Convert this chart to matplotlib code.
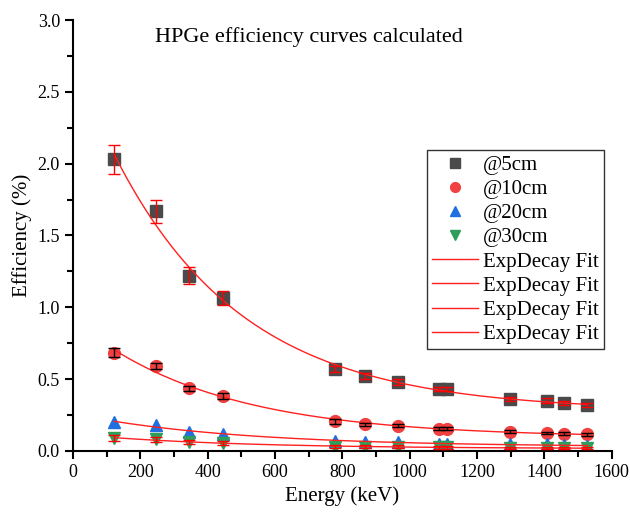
import numpy as np
import matplotlib.pyplot as plt
from matplotlib.lines import Line2D
from matplotlib.ticker import MultipleLocator

plt.rcParams['font.family'] = ['Liberation Serif', 'DejaVu Serif']

# Eu-152 gamma line energies (keV)
energy = [122, 245, 344, 444, 779, 867, 964, 1086, 1112, 1299, 1408, 1458, 1528]

# efficiency (%) at each distance
eff_5cm = [2.03, 1.67, 1.22, 1.065, 0.57, 0.52, 0.48, 0.43, 0.43, 0.36, 0.35, 0.335, 0.32]
err_5cm = [0.10, 0.08, 0.06, 0.05, 0.02, 0.02, 0.02, 0.015, 0.015, 0.015, 0.015, 0.015, 0.015]
eff_10cm = [0.685, 0.59, 0.435, 0.38, 0.205, 0.185, 0.175, 0.155, 0.155, 0.135, 0.125, 0.12, 0.115]
err_10cm = [0.03, 0.02, 0.02, 0.02, 0.015, 0.01, 0.01, 0.01, 0.01, 0.01, 0.01, 0.01, 0.01]
eff_20cm = [0.20, 0.18, 0.135, 0.12, 0.07, 0.065, 0.06, 0.05, 0.05, 0.045, 0.045, 0.04, 0.035]
eff_30cm = [0.09, 0.08, 0.06, 0.055, 0.03, 0.03, 0.03, 0.025, 0.025, 0.02, 0.02, 0.02, 0.02]
err_30cm = [0.02, 0.015, 0.015, 0.015, 0.01, 0.01, 0.01, 0.01, 0.01, 0.01, 0.01, 0.01, 0.01]

labels = ['@5cm', '@10cm', '@20cm', '@30cm']


def exp_decay_fit(x, y):
    # y = y0 + A*exp(-x/t), grid search on t, linear least squares for y0, A
    x = np.asarray(x, float)
    y = np.asarray(y, float)
    best = None
    for t in np.linspace(50, 3000, 2000):
        M = np.column_stack([np.ones_like(x), np.exp(-x / t)])
        coef, res, _, _ = np.linalg.lstsq(M, y, rcond=None)
        r = np.sum((M @ coef - y) ** 2)
        if best is None or r < best[0]:
            best = (r, coef[0], coef[1], t)
    return best[1:]


fig = plt.figure(figsize=(6.3, 5.13), dpi=100)
ax = fig.add_axes([0.116, 0.121, 0.855, 0.840])

xs = np.linspace(min(energy), max(energy), 300)
for y in [eff_5cm, eff_10cm, eff_20cm, eff_30cm]:
    y0, A, t = exp_decay_fit(energy, y)
    ax.plot(xs, y0 + A * np.exp(-xs / t), color='#ff2020', lw=1.0, zorder=3)

ax.plot(energy, eff_5cm, 's', color='#4a4a4a', ms=8.5, zorder=2)
ax.plot(energy, eff_10cm, 'o', color='#f04040', ms=8.5, zorder=2)
ax.plot(energy, eff_20cm, '^', color='#1f6fe0', ms=8.5, zorder=2)
ax.plot(energy, eff_30cm, 'v', color='#2e9e5a', ms=8.5, zorder=2)

ax.errorbar(energy, eff_5cm, yerr=err_5cm, fmt='none', ecolor='red', elinewidth=1, capsize=4, zorder=4)
ax.errorbar(energy, eff_10cm, yerr=err_10cm, fmt='none', ecolor='black', elinewidth=1, capsize=4, zorder=4)
ax.errorbar(energy, eff_30cm, yerr=err_30cm, fmt='none', ecolor='red', elinewidth=1, capsize=4, zorder=4)

ax.set_xlim(0, 1600)
ax.set_ylim(0, 3.0)
ax.xaxis.set_major_locator(MultipleLocator(200))
ax.xaxis.set_minor_locator(MultipleLocator(100))
ax.yaxis.set_major_locator(MultipleLocator(0.5))
ax.yaxis.set_minor_locator(MultipleLocator(0.25))
ax.yaxis.set_major_formatter(plt.FormatStrFormatter('%.1f'))
ax.spines['top'].set_visible(False)
ax.spines['right'].set_visible(False)
for s in ['left', 'bottom']:
    ax.spines[s].set_linewidth(1.5)
ax.tick_params(which='major', direction='out', length=6, width=1.5, labelsize=13)
ax.tick_params(which='minor', direction='out', length=4, width=1.5)

ax.set_xlabel('Energy (keV)', fontsize=15)
ax.set_ylabel('Efficiency (%)', fontsize=15)
ax.text(0.152, 0.96, 'HPGe efficiency curves calculated', transform=ax.transAxes,
        fontsize=16, va='center', ha='left')

handles = [
    Line2D([], [], ls='none', marker='s', color='#4a4a4a', ms=7),
    Line2D([], [], ls='none', marker='o', color='#f04040', ms=7),
    Line2D([], [], ls='none', marker='^', color='#1f6fe0', ms=7),
    Line2D([], [], ls='none', marker='v', color='#2e9e5a', ms=7),
] + [Line2D([], [], color='#ff2020', lw=1.0) for _ in range(4)]
leg_labels = labels + ['ExpDecay Fit'] * 4
leg = ax.legend(handles, leg_labels, loc='upper left', bbox_to_anchor=(0.657, 0.698),
                fontsize=15, frameon=True, fancybox=False, edgecolor='black',
                handlelength=2.2, labelspacing=0.22, borderpad=0.25, handletextpad=0.25,
                borderaxespad=0)
leg.get_frame().set_linewidth(1.0)

fig.savefig('out.png', dpi=100)
